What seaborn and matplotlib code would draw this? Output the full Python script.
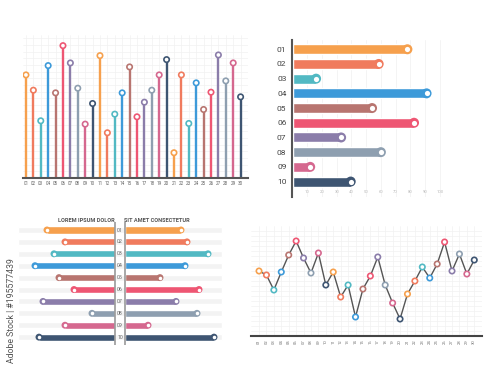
import matplotlib
matplotlib.use("Agg")
import matplotlib.pyplot as plt
import numpy as np
import seaborn as sns

sns.set_style("white")
plt.rcParams['font.family'] = ['Roboto', 'DejaVu Sans']

palette = ['#F6A04D', '#F07B5E', '#52B9C3', '#3D9AD9', '#B87570',
           '#EE5673', '#8B7DAA', '#8E9FB0', '#D5688F', '#3E5572']

# top left: 30 stems
stem_labels = [f'{i:02d}' for i in range(1, 31)]
stem_values = [77.5, 66, 43, 84.5, 64, 99.5, 86.5, 67.5, 40.5, 56,
               92, 34, 48, 64, 83.5, 46, 57, 66, 77.5, 89,
               19, 77.5, 41, 71.5, 51.5, 64.5, 92.5, 73, 86.5, 61]

# top right: horizontal bars
bar_labels = [f'{i:02d}' for i in range(1, 11)]
bar_values = [78, 58.5, 16, 91, 54, 82.5, 33, 60, 12, 39.5]
bar_ticks = [10, 20, 30, 40, 50, 60, 70, 80, 90, 100]

# bottom left: butterfly
left_title = 'LOREM IPSUM DOLOR'
right_title = 'SIT AMET CONSECTETUR'
left_values = [68, 50, 61, 80, 56, 41, 72, 23, 50, 76]
right_values = [56, 62, 83, 60, 35, 74, 51, 72, 23, 89]

# bottom right: line
line_labels = [f'{i:02d}' for i in range(1, 31)]
line_values = [65, 61, 46, 64, 81, 95, 78, 63, 83, 51,
               64, 39, 51, 19, 47, 60, 79, 51, 33, 17,
               42, 55, 69, 58, 72, 94, 65, 82, 62, 76]

watermark = 'Adobe Stock | #195577439'

W, H = 500, 375
fig = plt.figure(figsize=(5, 3.75), dpi=100)


def px_axes(x0, y0, x1, y1):
    return fig.add_axes([x0 / W, 1 - y1 / H, (x1 - x0) / W, (y1 - y0) / H])


def clean(ax):
    for s in ax.spines.values():
        s.set_visible(False)


# ---- panel 1: stems ----
ax1 = px_axes(23, 35, 248, 178)
clean(ax1)
x = np.arange(1, 31)
cols = [palette[i % 10] for i in range(30)]
ax1.vlines(x, 0, stem_values, colors=cols, lw=1.7, zorder=2)
ax1.scatter(x, stem_values, s=15, facecolors='white', edgecolors=cols,
            linewidths=1.2, zorder=3)
ax1.set_xlim(0.6, 31)
ax1.set_ylim(0, 107.5)
ax1.set_xticks(x)
ax1.set_xticklabels(stem_labels)
ax1.set_yticks(np.arange(5, 107, 5))
ax1.set_yticklabels([])
ax1.grid(True, color='#f2f2f2', lw=0.5, zorder=0)
ax1.spines['bottom'].set_visible(True)
ax1.spines['bottom'].set_color('#555555')
ax1.spines['bottom'].set_linewidth(1.5)
ax1.tick_params(axis='x', length=0, labelsize=3.3, colors='#666666', pad=2)
ax1.tick_params(axis='y', length=0)

# ---- panel 2: horizontal bars ----
ax2 = px_axes(292, 40, 470, 197)
clean(ax2)
sns.barplot(x=bar_values, y=bar_labels, hue=bar_labels, palette=palette,
            orient='h', width=0.68, legend=False, saturation=1, ax=ax2,
            zorder=2)
ax2.scatter(bar_values, range(10), s=52, c=palette, linewidths=0, zorder=3)
ax2.scatter(bar_values, range(10), s=14, c='white', linewidths=0, zorder=4)
ax2.set_xlim(-0.34, 120.5)
ax2.set_ylim(10.05, -0.63)
ax2.set_xticks(bar_ticks)
ax2.set_xticklabels([str(t) for t in bar_ticks])
ax2.grid(True, axis='x', color='#f2f2f2', lw=0.6, zorder=0)
ax2.spines['left'].set_visible(True)
ax2.spines['left'].set_color('#555555')
ax2.spines['left'].set_linewidth(1.5)
ax2.tick_params(axis='y', length=0, labelsize=6, colors='#444444', pad=4)
ax2.tick_params(axis='x', length=0, labelsize=3, colors='#bbbbbb', pad=-5)
ax2.set_xlabel('')
ax2.set_ylabel('')

# ---- panel 3: butterfly ----
ax3 = px_axes(15, 215, 225, 345)
clean(ax3)
rows = np.arange(10)
lv = np.array(left_values)
rv = np.array(right_values)
ax3.barh(rows, 204, left=-102, height=0.5, color='#f3f3f3', zorder=0)
ax3.barh(rows, -lv, left=-5, height=0.59, color=palette, zorder=2)
ax3.barh(rows, rv, left=5, height=0.59, color=palette, zorder=2)
ax3.scatter(-5 - lv, rows, s=25, c=palette, linewidths=0, zorder=3)
ax3.scatter(5 + rv, rows, s=25, c=palette, linewidths=0, zorder=3)
ax3.scatter(-5 - lv, rows, s=6.5, c='white', linewidths=0, zorder=4)
ax3.scatter(5 + rv, rows, s=6.5, c='white', linewidths=0, zorder=4)
ax3.vlines([-5, 5], -0.67, 9.66, colors='#999999', lw=1.2, zorder=3)
for i, lab in enumerate(bar_labels):
    ax3.text(0, i, lab, ha='center', va='center', fontsize=3.8,
             color='#666666')
ax3.text(-34, -0.78, left_title, ha='center', va='center', fontsize=4.1,
         fontweight='bold', color='#555555')
ax3.text(37, -0.78, right_title, ha='center', va='center', fontsize=4.1,
         fontweight='bold', color='#555555')
ax3.set_xlim(-105, 105)
ax3.set_ylim(9.66, -1.26)
ax3.set_xticks([])
ax3.set_yticks([])

# ---- panel 4: line ----
ax4 = px_axes(251, 226, 482, 336)
clean(ax4)
sns.lineplot(x=x, y=line_values, color='#555555', lw=1, ax=ax4, zorder=2)
ax4.scatter(x, line_values, s=15, facecolors='white', edgecolors=cols,
            linewidths=1.2, zorder=3)
ax4.set_xlim(-0.08, 31.04)
ax4.set_ylim(0, 110)
ax4.set_xticks(x)
ax4.set_xticklabels(line_labels, rotation=90)
ax4.set_yticks(np.arange(5, 110, 5))
ax4.set_yticklabels([])
ax4.grid(True, color='#f2f2f2', lw=0.5, zorder=0)
ax4.spines['bottom'].set_visible(True)
ax4.spines['bottom'].set_color('#444444')
ax4.spines['bottom'].set_linewidth(1.5)
ax4.tick_params(axis='x', length=0, labelsize=3, colors='#777777', pad=2.5)
ax4.tick_params(axis='y', length=0)

fig.text(12 / W, 1 - 258 / H, watermark, rotation=90,
         va='top', ha='center', fontsize=6.3, color='#555555')

fig.savefig('out.png', dpi=100)
